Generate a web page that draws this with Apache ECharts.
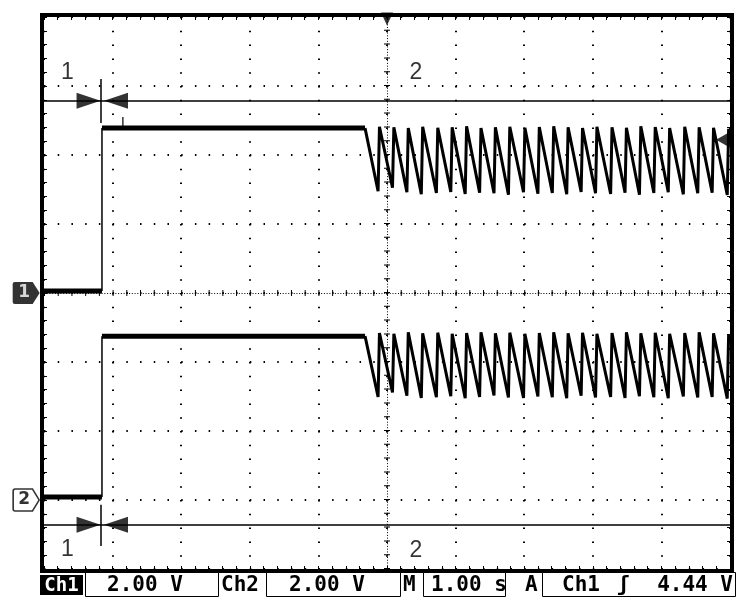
<!DOCTYPE html>
<html>
<head>
<meta charset="utf-8">
<script src="https://cdn.jsdelivr.net/npm/echarts@6/dist/echarts.min.js"></script>
<style>
html,body{margin:0;padding:0;background:#fff;}
#c{width:750px;height:613px;}
</style>
</head>
<body>
<div id="c"></div>
<script>
// ---------- data (time in s, voltage in V) ----------
const stepTime = -4.155;
const sawStartTime = -0.32;

const ch1Low  = [[-5, 0.06], [stepTime, 0.06]];
const ch1Step = [[stepTime, 0.06], [stepTime, 4.78]];
const ch1High = [[stepTime, 4.78], [sawStartTime, 4.78]];
const ch1Spike = [[-3.85, 4.78], [-3.85, 5.1]];

const ch2Low  = [[-5, 0.09], [stepTime, 0.09]];
const ch2Step = [[stepTime, 0.09], [stepTime, 4.75]];
const ch2High = [[stepTime, 4.75], [sawStartTime, 4.75]];

const sawTroughTimes = [-0.13, 0.08, 0.29, 0.50, 0.72, 0.93, 1.14, 1.35, 1.56, 1.77, 1.99, 2.20, 2.41, 2.62, 2.83, 3.04, 3.26, 3.47, 3.68, 3.89, 4.10, 4.32, 4.53, 4.74, 4.96];
const sawPeakTimes   = [-0.11, 0.10, 0.31, 0.52, 0.74, 0.95, 1.16, 1.37, 1.58, 1.79, 2.01, 2.22, 2.43, 2.64, 2.85, 3.06, 3.28, 3.49, 3.70, 3.91, 4.12, 4.34, 4.55, 4.76, 4.98];

const ch1Peaks   = [4.82, 4.80, 4.78, 4.82, 4.79, 4.80, 4.83, 4.78, 4.80, 4.82, 4.79, 4.81, 4.83, 4.80, 4.78, 4.82, 4.80, 4.79, 4.83, 4.81, 4.78, 4.82, 4.80, 4.79, 4.76];
const ch1Troughs = [2.95, 3.05, 2.92, 2.86, 2.90, 2.93, 2.87, 2.91, 2.89, 2.85, 2.92, 2.88, 2.90, 2.86, 2.93, 2.89, 2.87, 2.91, 2.85, 2.90, 2.92, 2.86, 2.89, 2.91, 2.84];
const ch2Peaks   = [4.84, 4.82, 4.86, 4.83, 4.85, 4.82, 4.84, 4.86, 4.83, 4.85, 4.82, 4.84, 4.86, 4.83, 4.85, 4.82, 4.84, 4.86, 4.83, 4.85, 4.82, 4.84, 4.86, 4.83, 4.80];
const ch2Troughs = [2.99, 3.12, 3.02, 2.96, 2.98, 3.01, 2.95, 2.99, 3.03, 2.97, 2.96, 3.00, 2.98, 2.95, 3.02, 2.97, 2.99, 2.96, 3.01, 2.98, 2.95, 3.00, 2.97, 2.99, 2.94];

// cursors (Ch1 volts for vertical placement)
const cursor1Time = -4.17;
const cursorBarLevels = [5.57, -6.72];
const cursorTickSpans = [[6.2, 4.93], [-6.14, -7.33]];
const cursorArrowTimes = [-4.35, -3.95];
const cursorLabels = [[-4.66, 6.38, '1'], [0.42, 6.38, '2'], [-4.66, -7.45, '1'], [0.42, -7.47, '2']];
const triggerLevel = 4.44;

// status bar texts
const statusTexts = {
  ch1: 'Ch1', ch1Scale: '2.00 V', ch2: 'Ch2', ch2Scale: '2.00 V',
  m: 'M', timeScale: '1.00 s', a: 'A', trigSrc: 'Ch1', slope: 'ʃ', trigLevel: '4.44 V'
};

// ---------- build ----------
function sawtooth(start, troughs, peaks) {
  const pts = [start];
  for (let i = 0; i < sawPeakTimes.length; i++) {
    pts.push([sawTroughTimes[i], troughs[i]]);
    pts.push([sawPeakTimes[i], peaks[i]]);
  }
  return pts;
}
const ch1Saw = sawtooth([sawStartTime, 4.78], ch1Troughs, ch1Peaks);
const ch2Saw = sawtooth([sawStartTime, 4.75], ch2Troughs, ch2Peaks);

const INK = '#000';
const tick = {show: true, inside: true, length: 3, lineStyle: {color: INK, width: 1}};
const minor = {show: true, splitNumber: 5, length: 3, lineStyle: {color: INK, width: 1}};

function traceSeries(name, data, yIdx, width, extra) {
  return Object.assign({
    name, type: 'line', xAxisIndex: 0, yAxisIndex: yIdx, data,
    symbol: 'none', smooth: false, animation: false, silent: true,
    lineStyle: {color: INK, width: width}, z: 3
  }, extra || {});
}

const markLines = [
  {xAxis: 0, lineStyle: {color: INK, width: 1, type: [1, 1.76]}},
  {xAxis: 0, lineStyle: {color: INK, width: 6, type: [1, 12.8]}},
  {yAxis: 0, lineStyle: {color: INK, width: 1, type: [1, 1.744]}},
  {yAxis: 0, lineStyle: {color: INK, width: 6, type: [1, 12.72]}}
];
cursorBarLevels.forEach(v => markLines.push({yAxis: v, lineStyle: {color: INK, width: 1.5, type: 'solid'}}));
cursorTickSpans.forEach(s => markLines.push([
  {coord: [cursor1Time, s[0]], lineStyle: {color: INK, width: 1.5, type: 'solid'}},
  {coord: [cursor1Time, s[1]]}
]));

const arrowData = [];
cursorBarLevels.forEach(v => {
  arrowData.push({value: [cursorArrowTimes[0], v], symbolRotate: -90});
  arrowData.push({value: [cursorArrowTimes[1], v], symbolRotate: 90});
});

function txt(text, x, fill, align, size) {
  return {type: 'text', silent: true, z: 20, style: {
    text, x, y: 586, fill: fill || INK, font: 'bold ' + (size || 21) + 'px "DejaVu Sans Mono"',
    textAlign: align || 'left', align: align || 'left',
    textVerticalAlign: 'middle', verticalAlign: 'middle'
  }};
}
function box(x, w) {
  return {type: 'rect', silent: true, z: 19, shape: {x: x + 0.5, y: 572.5, width: w, height: 24},
    style: {fill: '#fff', stroke: INK, lineWidth: 1}};
}

const option = {
  backgroundColor: '#fff',
  animation: false,
  grid: [
    {left: 44, top: 17, width: 686, height: 552, show: false},
    {left: 42, top: 15, width: 690, height: 556, show: true, borderColor: INK, borderWidth: 4, backgroundColor: 'transparent'}
  ],
  xAxis: [
    {gridIndex: 0, type: 'value', min: -5, max: 5, interval: 1, position: 'bottom',
      axisLine: {show: false, onZero: false}, axisLabel: {show: false}, axisTick: tick, minorTick: minor,
      splitLine: {show: true, lineStyle: {color: INK, width: 2, type: [1.5, 12.3]}}},
    {gridIndex: 0, type: 'value', min: -5, max: 5, interval: 1, position: 'top',
      axisLine: {show: false, onZero: false}, axisLabel: {show: false}, axisTick: tick, minorTick: minor,
      splitLine: {show: false}},
    {gridIndex: 1, type: 'value', min: 0, max: 1, show: false}
  ],
  yAxis: [
    {gridIndex: 0, type: 'value', min: -8, max: 8, interval: 2, position: 'left',
      axisLine: {show: false, onZero: false}, axisLabel: {show: false}, axisTick: tick, minorTick: minor,
      splitLine: {show: true, lineStyle: {color: INK, width: 2, type: [1.5, 12.22]}}},
    {gridIndex: 0, type: 'value', min: -2, max: 14, interval: 2, position: 'right',
      axisLine: {show: false, onZero: false}, axisLabel: {show: false}, axisTick: tick, minorTick: minor,
      splitLine: {show: false}},
    {gridIndex: 1, type: 'value', min: 0, max: 1, show: false}
  ],
  series: [
    traceSeries('ch1Low', ch1Low, 0, 5, {
      markLine: {silent: true, symbol: 'none', animation: false, label: {show: false}, data: markLines}
    }),
    traceSeries('ch1Step', ch1Step, 0, 1.5),
    traceSeries('ch1High', ch1High, 0, 5),
    traceSeries('ch1Spike', ch1Spike, 0, 1.2),
    traceSeries('ch1Saw', ch1Saw, 0, 3),
    traceSeries('ch2Low', ch2Low, 1, 5),
    traceSeries('ch2Step', ch2Step, 1, 1.5),
    traceSeries('ch2High', ch2High, 1, 5),
    traceSeries('ch2Saw', ch2Saw, 1, 3),
    {
      name: 'cursorArrows', type: 'scatter', xAxisIndex: 0, yAxisIndex: 0, silent: true, clip: false,
      symbol: 'triangle', symbolSize: [16, 24], itemStyle: {color: INK}, data: arrowData, z: 5
    },
    {
      name: 'trigger', type: 'scatter', xAxisIndex: 0, yAxisIndex: 0, silent: true, clip: false,
      symbol: 'triangle', itemStyle: {color: INK}, z: 6,
      data: [
        {value: [0, 7.94], symbolRotate: 180, symbolSize: [12, 13]},
        {value: [4.9, triggerLevel], symbolRotate: 90, symbolSize: [16, 14]}
      ]
    },
    {
      name: 'cursorLabels', type: 'scatter', xAxisIndex: 0, yAxisIndex: 0, silent: true, clip: false,
      symbolSize: 1, itemStyle: {color: 'transparent'}, data: cursorLabels, z: 6,
      label: {show: true, position: 'inside', formatter: p => p.value[2], color: INK,
        fontFamily: 'Liberation Sans', fontSize: 23, fontWeight: 'normal'}
    },
    {
      name: 'ch1Marker', type: 'scatter', xAxisIndex: 0, yAxisIndex: 0, silent: true, clip: false,
      symbol: 'path://M2,0 L20,0 L27,10 L20,20 L2,20 Q0,20 0,18 L0,2 Q0,0 2,0 Z', symbolSize: [27, 22],
      itemStyle: {color: INK}, data: [[-5.26, 0]], z: 6,
      label: {show: true, position: 'inside', offset: [-2, 0], formatter: '1', color: '#fff',
        fontFamily: 'DejaVu Sans', fontWeight: 'bold', fontSize: 17}
    },
    {
      name: 'ch2Marker', type: 'scatter', xAxisIndex: 0, yAxisIndex: 1, silent: true, clip: false,
      symbol: 'path://M2,0 L20,0 L27,10 L20,20 L2,20 Q0,20 0,18 L0,2 Q0,0 2,0 Z', symbolSize: [26, 22],
      itemStyle: {color: '#fff', borderColor: INK, borderWidth: 1.5}, data: [[-5.26, 0]], z: 6,
      label: {show: true, position: 'inside', offset: [-2, 0], formatter: '2', color: INK,
        fontFamily: 'DejaVu Sans', fontWeight: 'bold', fontSize: 17}
    }
  ],
  graphic: [
    {type: 'rect', silent: true, z: 19, shape: {x: 40, y: 575, width: 43, height: 20}, style: {fill: INK}},
    txt(statusTexts.ch1, 61.5, '#fff', 'center', 19),
    box(85, 133),
    txt(statusTexts.ch1Scale, 107),
    txt(statusTexts.ch2, 221),
    box(266, 134),
    txt(statusTexts.ch2Scale, 289),
    txt(statusTexts.m, 403),
    box(423, 82),
    txt(statusTexts.timeScale, 431),
    txt(statusTexts.a, 525),
    box(542, 193),
    txt(statusTexts.trigSrc, 562),
    txt(statusTexts.slope, 617),
    txt(statusTexts.trigLevel, 733, INK, 'right')
  ]
};

const chart = echarts.init(document.getElementById('c'), null, {renderer: 'canvas'});
chart.setOption(option);
</script>
</body>
</html>
